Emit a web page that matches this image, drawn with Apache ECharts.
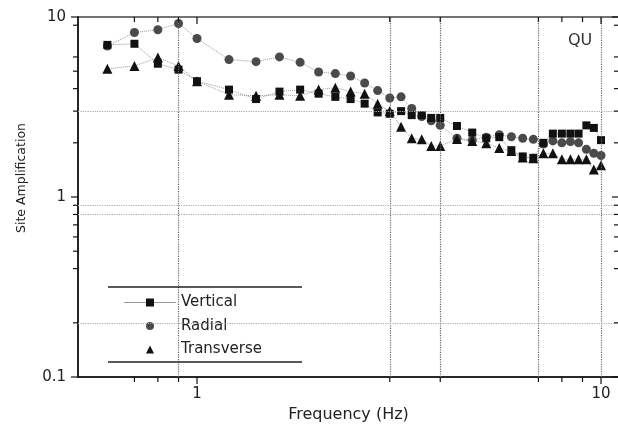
<!DOCTYPE html>
<html><head><meta charset="utf-8">
<script src="https://cdn.jsdelivr.net/npm/echarts@6/dist/echarts.min.js"></script>
<style>html,body{margin:0;padding:0;background:#fff}#c{width:618px;height:435px}</style>
</head><body><div id="c"></div>
<script>
const freq = [0.6, 0.7, 0.8, 0.9, 1.0, 1.2, 1.4, 1.6, 1.8, 2.0, 2.2, 2.4, 2.6, 2.8, 3.0, 3.2, 3.4, 3.6, 3.8, 4.0, 4.4, 4.8, 5.2, 5.6, 6.0, 6.4, 6.8, 7.2, 7.6, 8.0, 8.4, 8.8, 9.2, 9.6, 10.0];
const vertical = [7.0, 7.1, 5.5, 5.1, 4.4, 3.95, 3.5, 3.85, 3.95, 3.75, 3.6, 3.5, 3.3, 2.95, 2.9, 3.0, 2.85, 2.85, 2.75, 2.75, 2.48, 2.28, 2.12, 2.15, 1.82, 1.68, 1.65, 2.0, 2.25, 2.25, 2.25, 2.25, 2.5, 2.42, 2.07];
const radial = [6.9, 8.2, 8.5, 9.2, 7.6, 5.8, 5.65, 6.0, 5.6, 4.95, 4.85, 4.7, 4.3, 3.9, 3.55, 3.6, 3.1, 2.8, 2.65, 2.5, 2.12, 2.07, 2.15, 2.22, 2.16, 2.12, 2.09, 1.97, 2.05, 2.0, 2.03, 2.0, 1.84, 1.75, 1.7];
const transverse = [5.15, 5.35, 5.95, 5.35, 4.4, 3.7, 3.65, 3.7, 3.65, 3.95, 4.05, 3.85, 3.75, 3.3, 3.0, 2.46, 2.12, 2.09, 1.92, 1.92, 2.1, 2.05, 1.99, 1.87, 1.8, 1.66, 1.64, 1.75, 1.75, 1.62, 1.62, 1.62, 1.62, 1.42, 1.5];
const xTickLabels = [1, 10];
const yTickLabels = [0.1, 1, 10];
const xMinorTicks = [0.7, 0.8, 0.9, 3, 4, 7, 8, 9];
const yMinorTicks = [0.2, 0.4, 0.5, 0.6, 0.7, 0.8, 0.9, 2, 3, 4, 5, 6, 9];
const xGridLines = [0.9, 3, 4, 7, 10];
const yGridLines = [0.2, 0.8, 0.9, 3];

const FONT = 'DejaVu Sans';
const chart = echarts.init(document.getElementById('c'));
const pick = (arr, v) => { const m = arr.find(t => Math.abs(t - v) / t < 1e-6); return m === undefined ? '' : String(m); };
const xTicks = xTickLabels.map(v => [v, 1, 7]).concat(xMinorTicks.map(v => [v, 1, 5]));
const yTicks = yTickLabels.map(v => [1, v, 7]).concat(yMinorTicks.map(v => [1, v, 5]));
const tickStyle = {stroke: '#111', lineWidth: 1.2};

chart.setOption({
  animation: false,
  backgroundColor: '#fff',
  grid: {left: 78, top: 17, width: 541, height: 360, outerBoundsMode: 'none', containLabel: false, show: true, borderColor: '#444', borderWidth: 1.6, backgroundColor: 'transparent'},
  xAxis: {
    type: 'log', min: 0.5075, max: 11.08,
    name: 'Frequency (Hz)', nameLocation: 'middle', nameGap: 22,
    nameTextStyle: {fontFamily: FONT, fontSize: 16, color: '#222'},
    axisLine: {show: true, lineStyle: {color: '#111', width: 1.5}},
    axisTick: {show: false}, splitLine: {show: false}, minorTick: {show: false},
    axisLabel: {margin: 10, fontFamily: FONT, fontSize: 15, color: '#222', formatter: v => pick(xTickLabels, v)}
  },
  yAxis: {
    type: 'log', min: 0.1, max: 10,
    axisLine: {show: true, lineStyle: {color: '#111', width: 1.5}},
    axisTick: {show: false}, splitLine: {show: false}, minorTick: {show: false},
    axisLabel: {margin: 12, fontFamily: FONT, fontSize: 15, color: '#222', formatter: v => pick(yTickLabels, v)}
  },
  legend: {
    orient: 'vertical', left: 108, top: 286, padding: [8, 30, 8, 15], backgroundColor: '#fff',
    itemWidth: 52, itemHeight: 10, itemGap: 6.5, symbolKeepAspect: true,
    textStyle: {fontFamily: FONT, fontSize: 15, color: '#222', lineHeight: 17},
    data: [
      {name: 'Vertical', lineStyle: {type: 'solid', color: '#999', width: 1}},
      {name: 'Radial', lineStyle: {opacity: 0}},
      {name: 'Transverse', lineStyle: {opacity: 0}}
    ]
  },
  graphic: [
    {type: 'line', shape: {x1: 108, y1: 287, x2: 302, y2: 287}, style: {stroke: '#222', lineWidth: 1.5}, z: 100},
    {type: 'line', shape: {x1: 108, y1: 362, x2: 302, y2: 362}, style: {stroke: '#222', lineWidth: 1.5}, z: 100},
    {type: 'text', left: 568, top: 33, style: {text: 'QU', fontFamily: FONT, fontSize: 16, fill: '#333'}, z: 100},
    {type: 'text', x: 22, y: 178, rotation: Math.PI / 2, style: {text: 'Site Amplification', fontFamily: FONT, fontSize: 12.5, fill: '#222', textAlign: 'center', textVerticalAlign: 'middle'}, z: 100}
  ],
  series: [
    {
      type: 'custom', name: 'xticks', coordinateSystem: 'cartesian2d', clip: false, silent: true, z: 5,
      data: xTicks,
      renderItem: (params, api) => {
        const cs = params.coordSys; const px = api.coord([api.value(0), 1])[0]; const len = api.value(2);
        return {type: 'group', children: [
          {type: 'line', shape: {x1: px, y1: cs.y + cs.height, x2: px, y2: cs.y + cs.height + len}, style: tickStyle},
          {type: 'line', shape: {x1: px, y1: cs.y, x2: px, y2: cs.y + len}, style: tickStyle}
        ]};
      },
      markLine: {
        silent: true, symbol: 'none', label: {show: false}, animation: false,
        data: xGridLines.map(v => ({xAxis: v, lineStyle: {type: 'dotted', color: '#666', width: 1.2}}))
          .concat(yGridLines.map(v => ({yAxis: v, lineStyle: {type: 'dotted', color: '#aaa', width: 1.2}})))
      }
    },
    {
      type: 'custom', name: 'yticks', coordinateSystem: 'cartesian2d', clip: false, silent: true, z: 5,
      data: yTicks,
      renderItem: (params, api) => {
        const cs = params.coordSys; const py = api.coord([1, api.value(1)])[1]; const len = api.value(2);
        return {type: 'group', children: [
          {type: 'line', shape: {x1: cs.x - len, y1: py, x2: cs.x, y2: py}, style: tickStyle},
          {type: 'line', shape: {x1: cs.x + cs.width - len, y1: py, x2: cs.x + cs.width, y2: py}, style: tickStyle}
        ]};
      }
    },
    {
      name: 'Radial', type: 'line', data: freq.map((f, i) => [f, radial[i]]),
      symbol: 'circle', symbolSize: 9, showSymbol: true,
      itemStyle: {color: '#4a4a4a'},
      lineStyle: {type: 'dotted', color: '#999', width: 1}, z: 3
    },
    {
      name: 'Transverse', type: 'line', data: freq.map((f, i) => [f, transverse[i]]),
      symbol: 'triangle', symbolSize: 10, showSymbol: true,
      itemStyle: {color: '#111'},
      lineStyle: {type: 'dotted', color: '#999', width: 1}, z: 3
    },
    {
      name: 'Vertical', type: 'line', data: freq.map((f, i) => [f, vertical[i]]),
      symbol: 'rect', symbolSize: 8, showSymbol: true,
      itemStyle: {color: '#111'},
      lineStyle: {type: 'dotted', color: '#999', width: 1}, z: 4
    }
  ]
});
</script></body></html>
